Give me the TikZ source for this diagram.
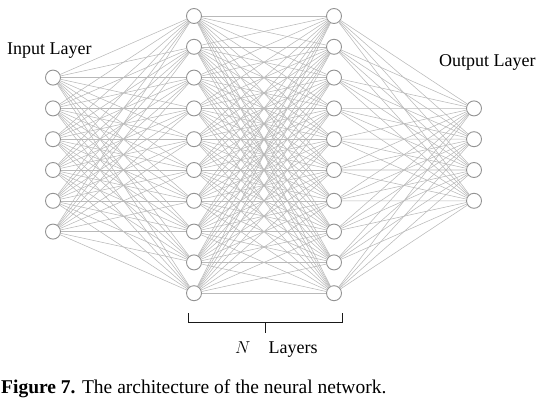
\documentclass[tikz,border=0pt]{standalone}
\usepackage{fontspec}
\setmainfont{Liberation Serif}
\begin{document}
\begin{tikzpicture}[x=1pt,y=1pt]
\tikzstyle{every node}=[inner sep=0pt]
\tikzstyle{neuron}=[draw=gray!85,circle,fill=white,line width=0.9pt,minimum size=15pt]
\tikzstyle{link}=[gray!55,line width=0.55pt]
\tikzstyle{layertext}=[font=\fontsize{18}{20}\selectfont,anchor=base west]
\useasboundingbox (0,0) rectangle (545,405);

% layers
\foreach \i in {1,...,6}
  \node[neuron] (in\i) at (53,{405-77.6-30.8*(\i-1)}) {};
\foreach \i in {1,...,10}
  \node[neuron] (ha\i) at (194,{405-16-30.8*(\i-1)}) {};
\foreach \i in {1,...,10}
  \node[neuron] (hb\i) at (334,{405-16-30.8*(\i-1)}) {};
\foreach \i in {1,...,4}
  \node[neuron] (out\i) at (474,{405-108.4-30.8*(\i-1)}) {};

% connections
\foreach \i in {1,...,6}
  \foreach \j in {1,...,10}
    \draw[link] (in\i) -- (ha\j);
\foreach \i in {1,...,10}
  \foreach \j in {1,...,10}
    \draw[link] (ha\i) -- (hb\j);
\foreach \i in {1,...,10}
  \foreach \j in {1,...,4}
    \draw[link] (hb\i) -- (out\j);

% labels
\node[layertext] (inlabel) at (7,350) {Input Layer};
\node[layertext] (outlabel) at (439,338) {Output Layer};
\draw[line width=0.9pt,gray!20!black] (188,92) -- (188,83) -- (342,83) -- (342,92);
\draw[line width=0.9pt,gray!20!black] (265,83) -- (265,72);
\node[layertext] (nlabel) at (235,52) {$N$\hspace{1em}Layers};

\node[font=\fontsize{19.5}{21}\selectfont,anchor=base west] (caption) at (1,12)
  {\textbf{Figure 7.} The architecture of the neural network.};
\end{tikzpicture}
\end{document}
